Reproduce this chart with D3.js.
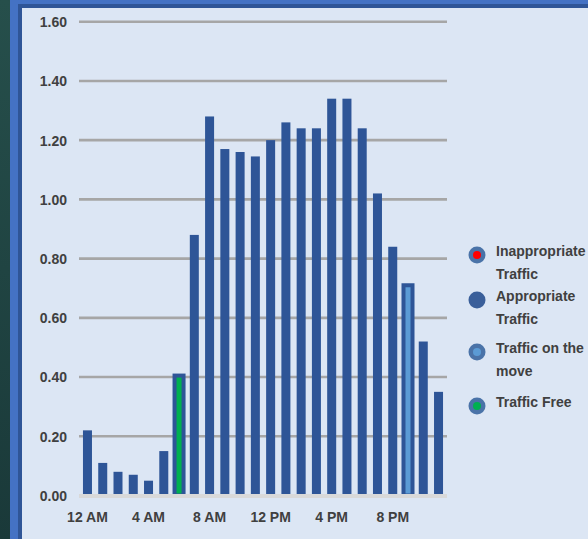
<!DOCTYPE html>
<html>
<head>
<meta charset="utf-8">
<script src="https://cdn.jsdelivr.net/npm/d3@7"></script>
<style>
  html, body { margin: 0; padding: 0; background: #234a47; }
  svg { display: block; }
  text { font-family: "Liberation Sans", Arial, sans-serif; font-weight: bold; font-size: 14px; fill: #404040; }
</style>
</head>
<body>
<svg id="chart" width="588" height="539"></svg>
<script>
// ---- data ----
const hours = ["12 AM","1 AM","2 AM","3 AM","4 AM","5 AM","6 AM","7 AM","8 AM","9 AM","10 AM","11 AM",
               "12 PM","1 PM","2 PM","3 PM","4 PM","5 PM","6 PM","7 PM","8 PM","9 PM","10 PM","11 PM"];
const values = [0.22,0.11,0.08,0.07,0.05,0.15,0.405,0.88,1.28,1.17,1.16,1.145,
                1.20,1.26,1.24,1.24,1.34,1.34,1.24,1.02,0.84,0.71,0.52,0.35];
// status of each hour: which legend category it belongs to
const status = ["app","app","app","app","app","app","free","app","app","app","app","app",
                "app","app","app","app","app","app","app","app","app","move","app","app"];
const yTicks = [0,0.2,0.4,0.6,0.8,1.0,1.2,1.4,1.6];
const xTickLabels = ["12 AM","4 AM","8 AM","12 PM","4 PM","8 PM"];
const legendKeys = ["inapp","app","move","free"];
const legendLabels = [["Inappropriate","Traffic"],["Appropriate","Traffic"],["Traffic on the","move"],["Traffic Free"]];

const colors = { inapp: "#ff0000", app: "#2e5597", move: "#5b9bd5", free: "#00b050" };

// ---- layout ----
const svg = d3.select("#chart");
const W = 588, H = 539;

// frame
svg.append("defs").append("linearGradient").attr("id","lg").attr("x1",0).attr("y1",0).attr("x2",0).attr("y2",1)
  .selectAll("stop").data([["0%","#264f4b"],["100%","#1a3939"]]).join("stop")
  .attr("offset",d=>d[0]).attr("stop-color",d=>d[1]);
svg.append("rect").attr("x",0).attr("y",0).attr("width",W).attr("height",H).attr("fill","url(#lg)");
svg.append("rect").attr("x",10).attr("y",0).attr("width",W-10).attr("height",H).attr("fill","#4472c4");
svg.append("rect").attr("x",18).attr("y",4).attr("width",W-18).attr("height",H-4).attr("fill","#2f5597");
svg.append("rect").attr("x",22).attr("y",8).attr("width",W-22).attr("height",H-8).attr("fill","#dce6f4");

const pLeft = 79, pRight = 447, pTop = 21.7, pBottom = 495.5;

const x = d3.scaleBand().domain(hours).range([pLeft, pRight]).paddingInner(0.41).paddingOuter(0.26);
const y = d3.scaleLinear().domain([0, 1.6]).range([pBottom, pTop]);

// gridlines
svg.append("g").selectAll("line").data(yTicks.filter(t => t > 0)).join("line")
  .attr("x1", pLeft).attr("x2", pRight)
  .attr("y1", d => y(d)).attr("y2", d => y(d))
  .attr("stroke", "#a6a6a6").attr("stroke-width", 2.6);

// y axis labels
const yAxis = d3.axisLeft(y).tickValues(yTicks).tickFormat(d3.format(".2f")).tickSize(0).tickPadding(0);
const gy = svg.append("g").attr("transform", "translate(67,0)").call(yAxis);
gy.select(".domain").remove();
gy.selectAll("text").attr("font-size", 14).attr("fill", "#404040").attr("dy", "0.35em")
  .style("font-family", '"Liberation Sans", Arial, sans-serif').style("font-weight", "bold");

// bars
const bw = x.bandwidth();
svg.append("g").selectAll("rect").data(hours).join("rect")
  .attr("x", d => x(d))
  .attr("width", bw)
  .attr("y", (d, i) => y(values[i]))
  .attr("height", (d, i) => y(0) - y(values[i]))
  .attr("fill", (d, i) => colors[status[i]])
  .attr("stroke", (d, i) => status[i] === "app" ? "none" : colors.app)
  .attr("stroke-width", 4);

// baseline
svg.append("line").attr("x1", pLeft).attr("x2", pRight).attr("y1", y(0) + 0.5).attr("y2", y(0) + 0.5)
  .attr("stroke", "#d9d9d9").attr("stroke-width", 4);

// x axis labels
const xAxis = d3.axisBottom(x).tickValues(xTickLabels).tickSize(0).tickPadding(0);
const gx = svg.append("g").attr("transform", `translate(0,${y(0) + 18})`).call(xAxis);
gx.select(".domain").remove();
gx.selectAll("text").attr("font-size", 14).attr("fill", "#404040").attr("dy", "0.6em")
  .style("font-family", '"Liberation Sans", Arial, sans-serif').style("font-weight", "bold");

// legend
const lg = svg.append("g");
const itemY = [251, 296, 348, 402];
legendKeys.forEach((k, i) => {
  const g = lg.append("g").attr("transform", `translate(0,${itemY[i]})`);
  g.append("circle").attr("cx", 477).attr("cy", 4).attr("r", 8.5)
    .attr("fill", k === "app" ? "#3a5f9a" : "#4a73a8");
  g.append("circle").attr("cx", 477).attr("cy", 4).attr("r", k === "app" ? 0 : 4)
    .attr("fill", colors[k]);
  legendLabels[i].forEach((t, j) => {
    g.append("text").attr("x", 496).attr("y", j * 23).attr("dy", "0.35em").text(t);
  });
});
</script>
</body>
</html>
